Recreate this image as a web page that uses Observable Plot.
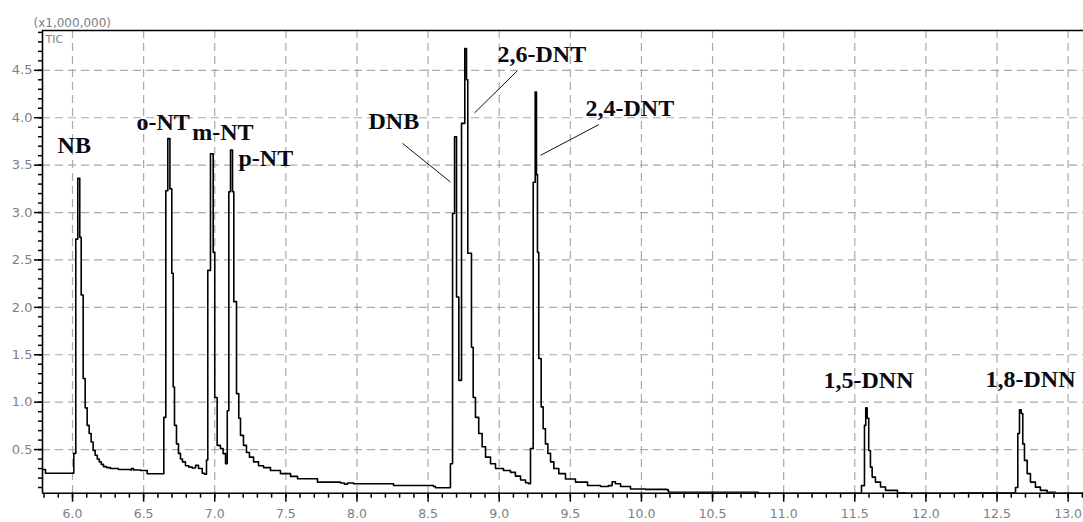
<!DOCTYPE html>
<html><head><meta charset="utf-8">
<script src="https://cdn.jsdelivr.net/npm/d3@7"></script>
<script src="https://cdn.jsdelivr.net/npm/@observablehq/plot@0.6"></script>
<style>html,body{margin:0;padding:0;background:#fff;} svg{display:block;}</style>
</head><body><div id="chart"></div>
<script>
// Retention time (min) and TIC intensity (x1,000,000)
const retentionTime = [
  5.789, 5.810, 6.009, 6.023, 6.037, 6.051, 6.061, 6.075, 6.089, 6.103, 6.117, 6.131, 6.145, 6.159, 6.174, 6.188,
  6.202, 6.218, 6.239, 6.267, 6.323, 6.408, 6.415, 6.429, 6.478, 6.525,
  6.642, 6.656, 6.670, 6.685, 6.698, 6.708, 6.717, 6.731, 6.745, 6.759, 6.773, 6.794, 6.818, 6.842, 6.865, 6.886,
  6.912, 6.928, 6.942, 6.951, 6.970, 6.989, 7.000, 7.017, 7.040, 7.059, 7.076,
  7.088, 7.099, 7.111, 7.125, 7.134, 7.153, 7.169, 7.181, 7.202, 7.223, 7.244, 7.273, 7.308, 7.343, 7.392,
  7.462, 7.533, 7.582, 7.722, 7.884, 7.912, 7.933, 7.976, 8.257, 8.538, 8.552,
  8.657, 8.672, 8.686, 8.700, 8.716, 8.735, 8.758, 8.770, 8.779, 8.805, 8.817, 8.833, 8.856, 8.880, 8.904,
  8.939, 8.974, 9.030, 9.079, 9.114, 9.150, 9.185, 9.206,
  9.220, 9.239, 9.253, 9.262, 9.269, 9.278, 9.295, 9.309, 9.325, 9.342, 9.361, 9.384, 9.419, 9.466, 9.536,
  9.621, 9.712, 9.768, 9.794, 9.817, 9.853, 9.923, 10.028, 10.181, 10.190, 10.823,
  11.547, 11.568, 11.577, 11.587, 11.598, 11.610, 11.622, 11.645, 11.681, 11.716, 11.800, 11.856, 12.243,
  12.630, 12.646, 12.658, 12.670, 12.681, 12.693, 12.712, 12.735, 12.770, 12.805, 12.852, 12.911, 13.108
];
const ticIntensity = [
  0.29, 0.25, 0.46, 2.72, 3.36, 2.74, 2.13, 1.25, 0.94, 0.755, 0.67, 0.58, 0.49, 0.44, 0.40, 0.37,
  0.344, 0.32, 0.31, 0.30, 0.29, 0.285, 0.30, 0.285, 0.28, 0.245,
  0.84, 3.23, 3.78, 3.25, 2.36, 1.16, 0.755, 0.56, 0.46, 0.40, 0.37, 0.33, 0.315, 0.305, 0.333, 0.30,
  0.25, 0.24, 0.39, 2.39, 3.62, 2.58, 1.05, 0.544, 0.51, 0.457, 0.35,
  0.91, 3.22, 3.66, 3.22, 2.06, 1.09, 0.83, 0.65, 0.544, 0.47, 0.42, 0.37, 0.33, 0.31, 0.28,
  0.246, 0.217, 0.193, 0.157, 0.147, 0.135, 0.147, 0.14, 0.122, 0.11, 0.098,
  0.35, 2.99, 3.80, 2.11, 1.23, 3.94, 4.73, 4.40, 2.57, 1.58, 1.05, 0.84, 0.67, 0.53, 0.42,
  0.35, 0.30, 0.28, 0.26, 0.22, 0.18, 0.15, 0.14,
  0.51, 3.32, 4.27, 3.40, 2.58, 1.46, 0.95, 0.72, 0.56, 0.46, 0.37, 0.30, 0.246, 0.19, 0.157,
  0.122, 0.11, 0.12, 0.16, 0.14, 0.11, 0.085, 0.08, 0.075, 0.05, 0.04,
  0.12, 0.755, 0.94, 0.83, 0.49, 0.315, 0.21, 0.157, 0.105, 0.07, 0.045, 0.04, 0.045,
  0.10, 0.67, 0.92, 0.88, 0.56, 0.386, 0.246, 0.157, 0.104, 0.07, 0.05, 0.04, 0.04
];

// Peak labels (position of label start/baseline, in data units)
const peakNames = ["NB", "o-NT", "m-NT", "p-NT", "DNB", "2,6-DNT", "2,4-DNT", "1,5-DNN", "1,8-DNN"];
const labelTime = [5.895, 6.450, 6.842, 7.167, 8.081, 8.988, 9.607, 11.280, 12.419];
const labelTic  = [3.624, 3.874, 3.769, 3.487, 3.878, 4.588, 4.015, 1.153, 1.156];

// Leader lines for DNB, 2,6-DNT, 2,4-DNT
const leaderFromTime = [8.320, 9.126, 9.700];
const leaderFromTic  = [3.730, 4.493, 3.927];
const leaderToTime   = [8.657, 8.826, 9.290];
const leaderToTic    = [3.322, 4.050, 3.603];

// Axes
const xDomain = [5.789, 13.108];
const yDomain = [0.04, 4.92];
const xTickLabels = [6.0, 6.5, 7.0, 7.5, 8.0, 8.5, 9.0, 9.5, 10.0, 10.5, 11.0, 11.5, 12.0, 12.5, 13.0];
const yTickLabels = [0.5, 1.0, 1.5, 2.0, 2.5, 3.0, 3.5, 4.0, 4.5];
const xMinorTicks = d3.range(58, 132).map(d => d / 10);
const yMinorTicks = d3.range(1, 50).map(d => d / 10);

const trace = retentionTime.map((t, i) => ({t, v: ticIntensity[i]}));
const labels = peakNames.map((name, i) => ({name, t: labelTime[i], v: labelTic[i]}));
const leaders = leaderFromTime.map((t, i) => ({x1: t, y1: leaderFromTic[i], x2: leaderToTime[i], y2: leaderToTic[i]}));

const gray = "#808080";
const chart = Plot.plot({
  width: 1083,
  height: 522,
  marginLeft: 42,
  marginRight: 0,
  marginTop: 30,
  marginBottom: 29.3,
  style: {fontFamily: "DejaVu Sans", fontSize: "13px", background: "#fff", overflow: "visible"},
  x: {domain: xDomain},
  y: {domain: yDomain},
  marks: [
    Plot.gridX(xTickLabels, {stroke: "#aaaaaa", strokeOpacity: 1, strokeWidth: 1.2, strokeDasharray: "8,5"}),
    Plot.gridY(yTickLabels, {stroke: "#aaaaaa", strokeOpacity: 1, strokeWidth: 1.2, strokeDasharray: "8,5"}),
    Plot.line(trace, {x: "t", y: "v", curve: "step-after", stroke: "#000", strokeWidth: 1.6, clip: true}),
    Plot.link(leaders, {x1: "x1", y1: "y1", x2: "x2", y2: "y2", stroke: "#111", strokeWidth: 1}),
    Plot.text(labels, {x: "t", y: "v", text: "name", textAnchor: "start", lineAnchor: "bottom",
      fontFamily: "Liberation Serif", fontWeight: "bold", fontSize: 24, fill: "#0a0a14"}),
    Plot.ruleX([xDomain[0]], {stroke: "#000", strokeWidth: 1.6}),
    Plot.ruleY([yDomain[0]], {stroke: "#000", strokeWidth: 1.6}),
    Plot.ruleY([yDomain[1]], {stroke: "#000", strokeWidth: 1.6}),
    Plot.axisX(xMinorTicks, {tickSize: 5, tickFormat: () => "", stroke: "#000", strokeWidth: 1.5, label: null}),
    Plot.axisX(xTickLabels, {tickSize: 9, tickPadding: 7, tickFormat: d3.format(".1f"), stroke: "#000", strokeWidth: 1.5,
      fill: gray, fontSize: 12.5, label: null}),
    Plot.axisY(yMinorTicks, {tickSize: 4, tickFormat: () => "", stroke: "#000", strokeWidth: 1.5, label: null}),
    Plot.axisY(yTickLabels, {tickSize: 8, tickPadding: 2, tickFormat: d3.format(".1f"), stroke: "#000", strokeWidth: 1.5,
      fill: gray, fontSize: 13, label: null}),
    Plot.text(["(x1,000,000)"], {frameAnchor: "top-left", text: d => d, dx: -9, dy: -4, textAnchor: "start",
      lineAnchor: "bottom", fill: gray, fontSize: 12}),
    Plot.text(["TIC"], {frameAnchor: "top-left", text: d => d, dx: 3, dy: 12.5, textAnchor: "start",
      lineAnchor: "bottom", fill: gray, fontSize: 11})
  ]
});
document.getElementById("chart").append(chart);
</script>
</body></html>
